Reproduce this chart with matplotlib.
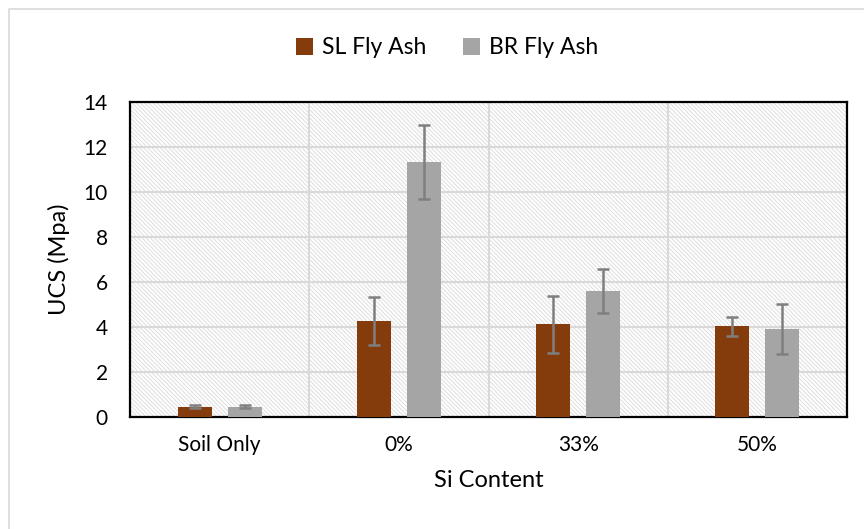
import matplotlib
matplotlib.use("Agg")
import matplotlib.pyplot as plt
import numpy as np
from matplotlib.patches import Rectangle
from matplotlib.lines import Line2D

plt.rcParams['font.family'] = ['Lato', 'DejaVu Sans']
plt.rcParams['hatch.linewidth'] = 0.7

categories = ["Soil Only", "0%", "33%", "50%"]
sl_values = [0.46, 4.27, 4.13, 4.04]
sl_errors = [0.06, 1.07, 1.27, 0.42]
br_values = [0.46, 11.33, 5.60, 3.91]
br_errors = [0.06, 1.63, 0.98, 1.13]
series_names = ["SL Fly Ash", "BR Fly Ash"]
yticks = [0, 2, 4, 6, 8, 10, 12, 14]

sl_color = "#843c0c"
br_color = "#a5a5a5"
err_color = "#7f7f7f"

fig = plt.figure(figsize=(8.64, 5.29), dpi=100)
ax = fig.add_axes([130/864, 1-417/529, (847-130)/864, (417-102)/529])

# hatched background
bg = Rectangle((0, 0), 1, 1, transform=ax.transAxes, facecolor="white",
               edgecolor="#dedede", hatch="\\" * 8, lw=0, zorder=0)
ax.add_patch(bg)

x = np.arange(len(categories))
w = 0.19
off = 0.14
ekw = dict(ecolor=err_color, elinewidth=1.8, capsize=4.5, capthick=1.8)
ax.bar(x - off, sl_values, w, color=sl_color, yerr=sl_errors, error_kw=ekw,
       label=series_names[0], zorder=3)
ax.bar(x + off, br_values, w, color=br_color, yerr=br_errors, error_kw=ekw,
       label=series_names[1], zorder=3)

ax.set_xlim(-0.5, len(categories) - 0.5)
ax.set_ylim(0, 14)
ax.set_yticks(yticks)
ax.set_xticks(x)
ax.set_xticklabels(categories)
ax.set_xticks(np.arange(0.5, len(categories) - 0.5, 1), minor=True)
ax.grid(axis="y", which="major", color="#d9d9d9", lw=1.5, zorder=1)
ax.grid(axis="x", which="minor", color="#d9d9d9", lw=1.5, zorder=1)
ax.set_axisbelow(True)
ax.tick_params(axis="both", which="both", length=0, labelsize=15, colors="black")
ax.tick_params(axis="x", pad=13)
ax.tick_params(axis="y", pad=16)

for s in ax.spines.values():
    s.set_color("black")
    s.set_linewidth(1.6)

ax.set_xlabel("Si Content", fontsize=17, labelpad=11)
ax.set_ylabel("UCS (Mpa)", fontsize=17, va="center", ha="center",
              rotation_mode="default")
ax.yaxis.set_label_coords((59 - 130) / 717, 0.5)

leg = fig.legend(loc="center", bbox_to_anchor=(447/864, 1-48/529), ncol=2,
                 frameon=False, fontsize=16.5, handlelength=0.75, handleheight=0.75,
                 columnspacing=1.6, handletextpad=0.4)

# chart-area border (only top and left edges visible in the crop)
fig.lines.append(Line2D([9/864, 9/864, 1.0], [0.0, 1 - 8.5/529, 1 - 8.5/529],
                        transform=fig.transFigure, color="#d9d9d9", lw=1.2))

fig.savefig("out.png", dpi=100)
